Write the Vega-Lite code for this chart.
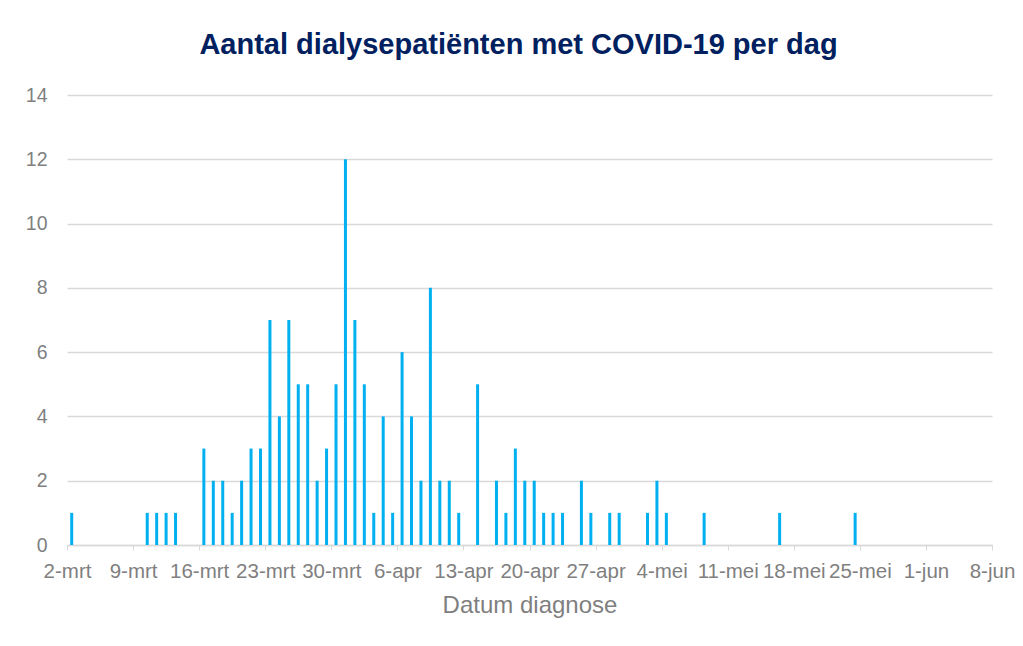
{
  "$schema": "https://vega.github.io/schema/vega-lite/v6.json",
  "width": 925,
  "height": 450,
  "autosize": {"type": "none"},
  "padding": {"left": 67, "top": 95, "right": 31, "bottom": 101},
  "background": "white",
  "title": {
    "text": "Aantal dialysepatiënten met COVID-19 per dag",
    "font": "Liberation Sans",
    "fontSize": 29,
    "fontWeight": "bold",
    "color": "#002060",
    "anchor": "middle",
    "offset": 25,
    "dx": -11
  },
  "data": {
    "values": [
      {"datum": "2020-03-02", "aantal": 1},
      {"datum": "2020-03-10", "aantal": 1},
      {"datum": "2020-03-11", "aantal": 1},
      {"datum": "2020-03-12", "aantal": 1},
      {"datum": "2020-03-13", "aantal": 1},
      {"datum": "2020-03-16", "aantal": 3},
      {"datum": "2020-03-17", "aantal": 2},
      {"datum": "2020-03-18", "aantal": 2},
      {"datum": "2020-03-19", "aantal": 1},
      {"datum": "2020-03-20", "aantal": 2},
      {"datum": "2020-03-21", "aantal": 3},
      {"datum": "2020-03-22", "aantal": 3},
      {"datum": "2020-03-23", "aantal": 7},
      {"datum": "2020-03-24", "aantal": 4},
      {"datum": "2020-03-25", "aantal": 7},
      {"datum": "2020-03-26", "aantal": 5},
      {"datum": "2020-03-27", "aantal": 5},
      {"datum": "2020-03-28", "aantal": 2},
      {"datum": "2020-03-29", "aantal": 3},
      {"datum": "2020-03-30", "aantal": 5},
      {"datum": "2020-03-31", "aantal": 12},
      {"datum": "2020-04-01", "aantal": 7},
      {"datum": "2020-04-02", "aantal": 5},
      {"datum": "2020-04-03", "aantal": 1},
      {"datum": "2020-04-04", "aantal": 4},
      {"datum": "2020-04-05", "aantal": 1},
      {"datum": "2020-04-06", "aantal": 6},
      {"datum": "2020-04-07", "aantal": 4},
      {"datum": "2020-04-08", "aantal": 2},
      {"datum": "2020-04-09", "aantal": 8},
      {"datum": "2020-04-10", "aantal": 2},
      {"datum": "2020-04-11", "aantal": 2},
      {"datum": "2020-04-12", "aantal": 1},
      {"datum": "2020-04-14", "aantal": 5},
      {"datum": "2020-04-16", "aantal": 2},
      {"datum": "2020-04-17", "aantal": 1},
      {"datum": "2020-04-18", "aantal": 3},
      {"datum": "2020-04-19", "aantal": 2},
      {"datum": "2020-04-20", "aantal": 2},
      {"datum": "2020-04-21", "aantal": 1},
      {"datum": "2020-04-22", "aantal": 1},
      {"datum": "2020-04-23", "aantal": 1},
      {"datum": "2020-04-25", "aantal": 2},
      {"datum": "2020-04-26", "aantal": 1},
      {"datum": "2020-04-28", "aantal": 1},
      {"datum": "2020-04-29", "aantal": 1},
      {"datum": "2020-05-02", "aantal": 1},
      {"datum": "2020-05-03", "aantal": 2},
      {"datum": "2020-05-04", "aantal": 1},
      {"datum": "2020-05-08", "aantal": 1},
      {"datum": "2020-05-16", "aantal": 1},
      {"datum": "2020-05-24", "aantal": 1}
    ]
  },
  "mark": {"type": "bar", "color": "#00B0F0", "width": 3},
  "encoding": {
    "x": {
      "field": "datum",
      "type": "temporal",
      "timeUnit": "utcyearmonthdate",
      "bandPosition": 0.5,
      "scale": {
        "type": "utc",
        "domain": [
          {"year": 2020, "month": 3, "date": 2, "utc": true},
          {"year": 2020, "month": 6, "date": 8, "utc": true}
        ]
      },
      "axis": {
        "values": [
          {"year": 2020, "month": 3, "date": 2, "utc": true},
          {"year": 2020, "month": 3, "date": 9, "utc": true},
          {"year": 2020, "month": 3, "date": 16, "utc": true},
          {"year": 2020, "month": 3, "date": 23, "utc": true},
          {"year": 2020, "month": 3, "date": 30, "utc": true},
          {"year": 2020, "month": 4, "date": 6, "utc": true},
          {"year": 2020, "month": 4, "date": 13, "utc": true},
          {"year": 2020, "month": 4, "date": 20, "utc": true},
          {"year": 2020, "month": 4, "date": 27, "utc": true},
          {"year": 2020, "month": 5, "date": 4, "utc": true},
          {"year": 2020, "month": 5, "date": 11, "utc": true},
          {"year": 2020, "month": 5, "date": 18, "utc": true},
          {"year": 2020, "month": 5, "date": 25, "utc": true},
          {"year": 2020, "month": 6, "date": 1, "utc": true},
          {"year": 2020, "month": 6, "date": 8, "utc": true}
        ],
        "labelExpr": "utcdate(datum.value) + '-' + ['jan','feb','mrt','apr','mei','jun','jul'][utcmonth(datum.value)]",
        "labelOverlap": false,
        "labelFlush": false,
        "labelBound": false,
        "labelFont": "Liberation Sans",
        "labelFontSize": 20.5,
        "labelColor": "#7f7f7f",
        "labelPadding": 11,
        "tickColor": "#d9d9d9",
        "tickSize": 5,
        "domainColor": "#d9d9d9",
        "domainWidth": 1.5,
        "grid": false,
        "title": "Datum diagnose",
        "titleFont": "Liberation Sans",
        "titleFontSize": 24,
        "titleFontWeight": "normal",
        "titleColor": "#7f7f7f",
        "titlePadding": 12
      }
    },
    "y": {
      "field": "aantal",
      "type": "quantitative",
      "scale": {"domain": [0, 14]},
      "axis": {
        "values": [0, 2, 4, 6, 8, 10, 12, 14],
        "domain": false,
        "ticks": false,
        "gridColor": "#d9d9d9",
        "gridWidth": 1.5,
        "labelFont": "Liberation Sans",
        "labelFontSize": 19.5,
        "labelColor": "#7f7f7f",
        "labelPadding": 20,
        "title": null
      }
    }
  },
  "config": {"view": {"stroke": null}}
}
